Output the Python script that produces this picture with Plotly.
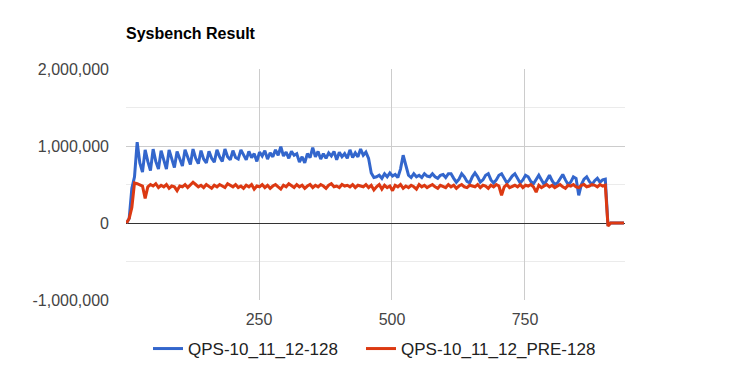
import plotly.graph_objects as go

# sample positions (seconds)
x_vals = list(range(1, 937, 5))

# QPS values in thousands
qps_main_k = [
    0, 60, 450, 600, 1050, 780, 660, 950, 800, 680,
    960, 800, 700, 940, 820, 700, 950, 820, 720, 930,
    820, 740, 950, 840, 760, 960, 840, 770, 940, 830,
    780, 930, 840, 790, 950, 860, 800, 960, 860, 820,
    940, 850, 830, 950,
    880, 820, 930, 850, 900, 800, 920, 870, 940, 830,
    910, 860, 950, 880, 990, 870, 920, 840, 930, 880,
    900, 790, 860, 780, 900, 850, 980, 860, 930, 830,
    900, 840, 910, 870, 930, 820, 920, 860, 900, 840,
    950, 850, 910, 860, 960, 880, 920, 840,
    650, 590, 600, 620, 580, 640, 600, 650, 610, 630,
    590, 700, 880, 760, 620, 590, 640, 600, 620, 590,
    640, 610, 600, 640, 600, 580, 620, 630, 590, 640,
    640, 580, 530, 570, 640, 600, 540, 520, 600, 650,
    600, 530, 560, 620, 640, 560, 520, 560, 620, 640,
    570, 520, 560, 610, 640, 580, 520, 560, 620, 600,
    540, 510, 570, 620, 560, 500, 560, 620, 550, 500,
    520, 580, 630, 560, 500, 530, 600, 580, 360, 500,
    570, 600, 540, 500, 550, 580, 530, 560, 570,
    -30, 0, 0, 0, 0, 0, 0,
]

qps_pre_k = [
    0, 60, 200, 520, 510, 500, 480, 320, 470, 500,
    480, 510, 460, 490, 470, 500, 450, 480, 470, 420,
    480, 470, 500, 460, 490, 530, 500, 470, 490, 460,
    500, 480, 450, 490, 470, 500, 480, 460, 510, 490,
    470, 500, 460, 480, 450, 490, 470, 500, 440, 480,
    470, 500, 460, 490, 450, 480, 500, 470, 440, 490,
    470, 510, 480, 460, 500, 470, 490, 450, 480, 500,
    460, 490, 470, 500, 480, 450, 490, 510, 470, 480,
    460, 500, 480, 490, 470, 500, 460, 490, 480, 470,
    500, 460, 490, 430, 470, 500, 440, 490, 460, 480,
    420, 490, 470, 500, 450, 480, 460, 490, 470, 440,
    500, 470, 490, 460, 480, 500, 470, 450, 490, 480,
    460, 500, 470, 490, 450, 480, 500, 470, 460, 490,
    480, 470, 500, 460, 490, 480, 450, 490, 470, 500,
    480, 360, 470, 500, 460, 480, 490, 470, 500, 460,
    490, 480, 500, 470, 400, 490, 460, 480, 500, 470,
    490, 460, 480, 500, 470, 450, 490, 480, 500, 470,
    460, 490, 500, 470, 480, 500, 490, 470, 500, 480,
    490, -40, 0, 0, 0, 0, 0, 0,
]

series_names = ["QPS-10_11_12-128", "QPS-10_11_12_PRE-128"]
series_colors = ["#3366cc", "#dc3912"]

y_tick_vals = [-1000000, 0, 1000000, 2000000]
y_tick_text = ["-1,000,000", "0", "1,000,000", "2,000,000"]
x_tick_vals = [250, 500, 750]
x_tick_text = ["250", "500", "750"]

FONT = "Liberation Sans, Arial, sans-serif"

fig = go.Figure()
for name, vals, color, lg in zip(series_names, [qps_main_k, qps_pre_k], series_colors,
                                 ["legend", "legend2"]):
    fig.add_trace(go.Scatter(
        x=x_vals, y=[v * 1000 for v in vals], mode="lines", name=name,
        line=dict(color=color, width=3), legend=lg,
    ))

legend_common = dict(orientation="h", xanchor="left", xref="container",
                     y=1-349/373, yanchor="middle", yref="container",
                     font=dict(family=FONT, size=17, color="#222222"),
                     itemwidth=30, bgcolor="rgba(0,0,0,0)")

fig.update_layout(
    width=745, height=373,
    margin=dict(l=126, r=120, t=69, b=73, autoexpand=False),
    paper_bgcolor="white", plot_bgcolor="white",
    font=dict(family=FONT, size=16, color="#444444"),
    title=dict(text="<b>Sysbench Result</b>", x=126/745, xanchor="left", xref="container",
               y=1-33/373, yanchor="middle", yref="container",
               font=dict(family=FONT, size=16, color="#000000")),
    showlegend=True,
    legend=dict(x=148/745, **legend_common),
    legend2=dict(x=361/745, **legend_common),
    xaxis=dict(range=[0, 938], tickvals=x_tick_vals, ticktext=x_tick_text,
               showgrid=True, gridcolor="#cccccc", gridwidth=1, zeroline=False,
               showline=False, ticks="", ticklabelstandoff=8, automargin=False),
    yaxis=dict(range=[-1000000, 2000000], tickvals=y_tick_vals, ticktext=y_tick_text,
               showgrid=True, gridcolor="#cccccc", gridwidth=1,
               zeroline=True, zerolinecolor="#333333", zerolinewidth=1,
               showline=False, ticks="", ticklabelstandoff=16, automargin=False,
               minor=dict(dtick=500000, tick0=0, showgrid=True, gridcolor="#ebebeb", gridwidth=1)),
)

fig.write_html("out.html", config={"displayModeBar": False},
               post_script="document.body.style.margin='0';")
